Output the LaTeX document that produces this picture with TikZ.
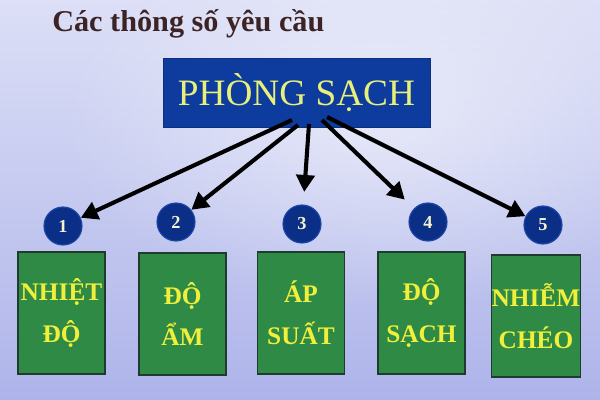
\documentclass[tikz,border=0pt]{standalone}
\usepackage{fontspec}
\setmainfont{Liberation Serif}
\usetikzlibrary{arrows.meta,shadings,fadings}
\tikzfading[name=softspot, inner color=transparent!0, outer color=transparent!100]
\definecolor{bgtop}{HTML}{DCDFF6}
\definecolor{bgbot}{HTML}{AEB4EA}
\definecolor{titlecol}{HTML}{3C2426}
\definecolor{mainblue}{HTML}{0E3C9E}
\definecolor{maintext}{HTML}{E6F07A}
\definecolor{boxgreen}{HTML}{2F8A45}
\definecolor{boxedge}{HTML}{1E3B2E}
\definecolor{boxtext}{HTML}{F0F03C}
\definecolor{circfill}{HTML}{0B2F86}
\definecolor{circedge}{HTML}{1C47A8}
\definecolor{numtext}{HTML}{F4F2CC}
\tikzset{
  mainbox/.style={draw=mainblue!80!black, line width=0.4pt, fill=mainblue, text=maintext,
    minimum width=6.675cm, minimum height=1.725cm, inner sep=0pt,
    font=\fontsize{26.5}{30}\selectfont},
  parambox/.style={draw=boxedge, line width=0.9pt, fill=boxgreen, text=boxtext,
    minimum width=2.175cm, minimum height=3.05cm, inner sep=0pt, align=center,
    font=\fontsize{18}{29.5}\selectfont\bfseries},
  numcirc/.style={circle, draw=circedge, line width=0.8pt, fill=circfill, text=numtext,
    minimum size=0.95cm, inner sep=0pt, font=\fontsize{13}{13}\selectfont\bfseries},
  conn/.style={line width=2.9pt, black, -{Triangle[length=12pt,width=13pt]}},
}
\begin{document}
\begin{tikzpicture}[x=0.025cm, y=-0.025cm]
  \useasboundingbox (0,0) rectangle (600,400);
  \clip (0,0) rectangle (600,400);
  % background
  \shade[top color=bgtop, bottom color=bgbot] (0,0) rectangle (600,400);
  \fill[white, opacity=0.5, path fading=softspot] (380,120) ellipse (320 and 190);

  % title
  \node[anchor=base west, inner sep=0pt, text=titlecol,
        font=\fontsize{21.5}{24}\selectfont\bfseries] (title) at (52,32) {Các thông số yêu cầu};

  % main box
  \node[mainbox] (ps) at (296.5,92.5) {PHÒNG SẠCH};

  % numbered circles
  \node[numcirc] (c1) at (63,226) {1};
  \node[numcirc] (c2) at (176,222) {2};
  \node[numcirc] (c3) at (302,224) {3};
  \node[numcirc] (c4) at (428,222) {4};
  \node[numcirc] (c5) at (543,225) {5};

  % parameter boxes
  \node[parambox] (b1) at (61.5,313) {NHIỆT\\ĐỘ};
  \node[parambox] (b2) at (182.5,314) {ĐỘ\\ẨM};
  \node[parambox] (b3) at (301,313) {ÁP\\SUẤT};
  \node[parambox] (b4) at (421.5,313) {ĐỘ\\SẠCH};
  \node[parambox] (b5) at (536,316) {NHIỄM\\CHÉO};

  % arrow start points on the main box
  \coordinate (s1) at (292,120);
  \coordinate (s2) at (298,125);
  \coordinate (s3) at (309,124);
  \coordinate (s4) at (322,120);
  \coordinate (s5) at (327,117);

  \draw[conn] (s1) -- (c1);
  \draw[conn] (s2) -- (c2);
  \draw[conn, shorten >=9pt] (s3) -- (c3);
  \draw[conn, shorten >=9pt] (s4) -- (c4);
  \draw[conn] (s5) -- (c5);
\end{tikzpicture}
\end{document}
